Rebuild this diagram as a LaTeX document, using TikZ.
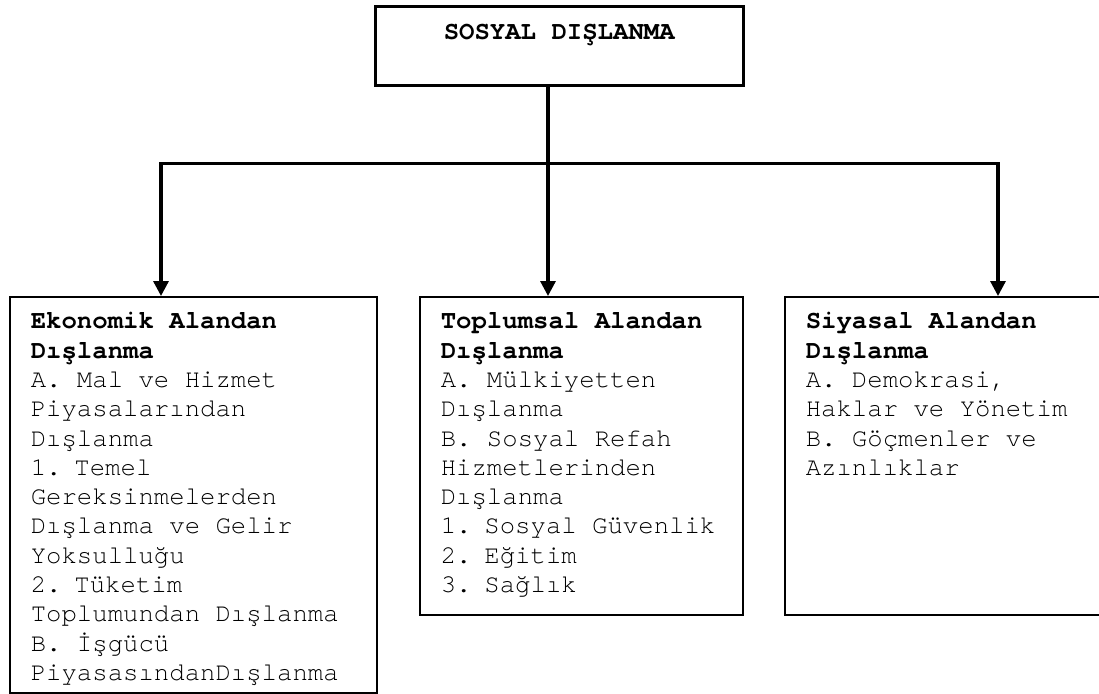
\documentclass[tikz,border=0pt]{standalone}
\usepackage{fontspec}
\setmonofont{texgyrecursor-regular.otf}[BoldFont=texgyrecursor-bold.otf]
\usetikzlibrary{arrows.meta}

\tikzset{
	yazi/.style={font=\ttfamily\fontsize{12.83pt}{14.65pt}\selectfont, execute at begin node={\spaceskip=7.7pt\relax}},
	anakutu/.style={yazi, draw, line width=1.5pt, anchor=north west, inner sep=0pt, minimum width=184pt, minimum height=39.75pt, text height=16.75pt, text depth=23pt},
	kutu/.style={yazi, draw, line width=0.8pt, anchor=north west, inner xsep=10.5pt, inner ysep=0pt, align=left, text height=16pt},
	baglanti/.style={line width=1.6pt},
	ok/.style={baglanti, -{Triangle[width=7.5pt,length=7.5pt]}}
}

\begin{document}
\begin{tikzpicture}[x=0.5pt,y=-0.5pt]
	\useasboundingbox (0,0) rectangle (1099,693);
	\node[anakutu] (sosyal) at (374,4.5) {\textbf{SOSYAL DIŞLANMA}};
	\node[kutu, text width=162.5pt, text depth=182pt] (ekonomik) at (9,296) {\textbf{Ekonomik Alandan}\\\textbf{Dışlanma}\\A. Mal ve Hizmet\\Piyasalarından\\Dışlanma\\1. Temel\\Gereksinmelerden\\Dışlanma ve Gelir\\Yoksulluğu\\2. Tüketim\\Toplumundan Dışlanma\\B. İşgücü\\PiyasasındanDışlanma};
	\node[kutu, text width=140.5pt, text depth=143pt] (toplumsal) at (419,296) {\textbf{Toplumsal Alandan}\\\textbf{Dışlanma}\\A. Mülkiyetten\\Dışlanma\\B. Sosyal Refah\\Hizmetlerinden\\Dışlanma\\1. Sosyal Güvenlik\\2. Eğitim\\3. Sağlık};
	\node[kutu, text width=144pt, text depth=143pt] (siyasal) at (784,296) {\textbf{Siyasal Alandan}\\\textbf{Dışlanma}\\A. Demokrasi,\\Haklar ve Yönetim\\B. Göçmenler ve\\Azınlıklar};
	\coordinate (orta) at (548,163.5);
	\coordinate (sol) at (161,163.5);
	\coordinate (sag) at (998,163.5);

	\path [baglanti]
	(sosyal.south -| orta) edge (orta)
	(sol) edge[line cap=rect] (sag);
	\path [ok]
	(sol) edge (ekonomik.north -| sol)
	(orta) edge (toplumsal.north -| orta)
	(sag) edge (siyasal.north -| sag);
\end{tikzpicture}
\end{document}
